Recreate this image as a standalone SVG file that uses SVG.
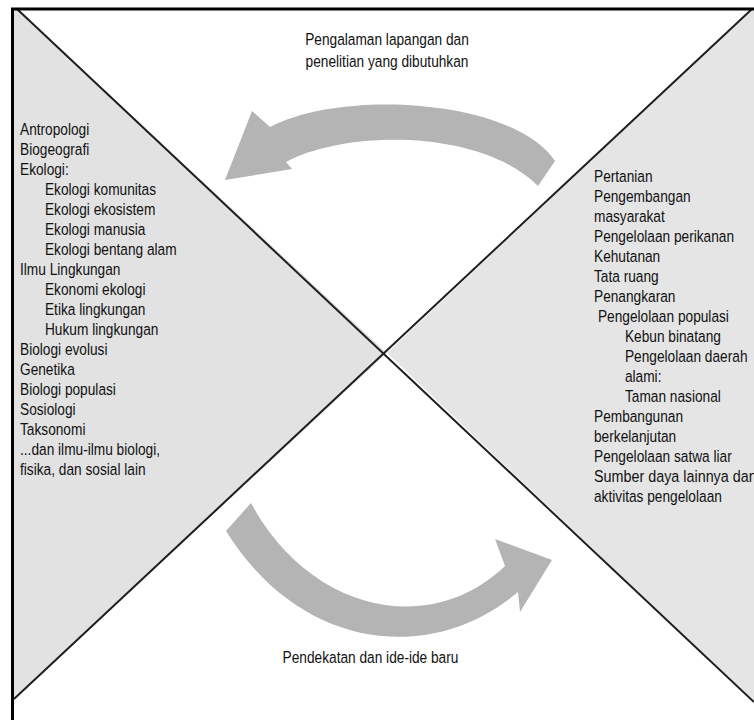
<svg xmlns="http://www.w3.org/2000/svg" width="754" height="720" viewBox="0 0 754 720">
<style>
.t{font-family:'Liberation Sans',Arial,sans-serif;font-size:16.5px;fill:#111111}
.c{text-anchor:middle}
.region{fill:#e2e2e2}
.xline{stroke:#1e1e1e;stroke-width:2;fill:none}
.frame{stroke:#000;stroke-width:3;fill:none}
.arrow{fill:#b4b4b4}
</style>
<rect x="0" y="0" width="754" height="720" fill="#ffffff"/>
<g id="background">
<polygon class="region" points="13,9 17,9 387,353 14,699 13,720"/>
<polygon class="region" points="752,9 754,9 754,702 387,353" style="fill:#e5e5e5"/>
<line class="xline" x1="17" y1="9" x2="754" y2="702"/>
<line class="xline" x1="752" y1="9" x2="14" y2="699"/>
<polyline class="frame" points="12.5,720 12.5,9 754,9"/>
</g>
<g id="connectors">
<path id="arrow-top" class="arrow" d="M555,161 C515,100 345,88 270,127 L252,111 L225,180 L292,169 L286,162 C345,130 480,128 538,186 Z"/>
<path id="arrow-bottom" class="arrow" d="M251,503 C310,612 430,638 505,566 L495,539 L552,560 L520,612 L518,592 C430,666 300,650 226,531 Z"/>
</g>
<g id="top-label" transform="translate(387 0) scale(0.83 1)">
<text class="t c" x="0" y="45">Pengalaman lapangan dan</text>
<text class="t c" x="0" y="67">penelitian yang dibutuhkan</text>
</g>
<g id="left-list" transform="translate(20 0) scale(0.83 1)">
<text class="t" x="0" y="135.5">Antropologi</text>
<text class="t" x="0" y="155.5">Biogeografi</text>
<text class="t" x="0" y="175.5">Ekologi:</text>
<text class="t" x="30.1" y="195.5">Ekologi komunitas</text>
<text class="t" x="30.1" y="215.5">Ekologi ekosistem</text>
<text class="t" x="30.1" y="235.5">Ekologi manusia</text>
<text class="t" x="30.1" y="255.5">Ekologi bentang alam</text>
<text class="t" x="0" y="275.5">Ilmu Lingkungan</text>
<text class="t" x="30.1" y="295.5">Ekonomi ekologi</text>
<text class="t" x="30.1" y="315.5">Etika lingkungan</text>
<text class="t" x="30.1" y="335.5">Hukum lingkungan</text>
<text class="t" x="0" y="355.5">Biologi evolusi</text>
<text class="t" x="0" y="375.5">Genetika</text>
<text class="t" x="0" y="395.5">Biologi populasi</text>
<text class="t" x="0" y="415.5">Sosiologi</text>
<text class="t" x="0" y="435.5">Taksonomi</text>
<text class="t" x="0" y="455.5">...dan ilmu-ilmu biologi,</text>
<text class="t" x="0" y="475.5">fisika, dan sosial lain</text>
</g>
<g id="right-list" transform="translate(594 0) scale(0.83 1)">
<text class="t" x="0" y="182">Pertanian</text>
<text class="t" x="0" y="202">Pengembangan</text>
<text class="t" x="0" y="222">masyarakat</text>
<text class="t" x="0" y="242">Pengelolaan perikanan</text>
<text class="t" x="0" y="262">Kehutanan</text>
<text class="t" x="0" y="282">Tata ruang</text>
<text class="t" x="0" y="302">Penangkaran</text>
<text class="t" x="4.8" y="322">Pengelolaan populasi</text>
<text class="t" x="37.3" y="342">Kebun binatang</text>
<text class="t" x="37.3" y="362">Pengelolaan daerah</text>
<text class="t" x="37.3" y="382">alami:</text>
<text class="t" x="37.3" y="402">Taman nasional</text>
<text class="t" x="0" y="422">Pembangunan</text>
<text class="t" x="0" y="442">berkelanjutan</text>
<text class="t" x="0" y="462">Pengelolaan satwa liar</text>
<text class="t" x="0" y="482" textLength="196" lengthAdjust="spacingAndGlyphs">Sumber daya lainnya dan</text>
<text class="t" x="0" y="502">aktivitas pengelolaan</text>
</g>
<g id="bottom-label" transform="translate(370.5 0) scale(0.83 1)">
<text class="t c" x="0" y="663">Pendekatan dan ide-ide baru</text>
</g>
</svg>
